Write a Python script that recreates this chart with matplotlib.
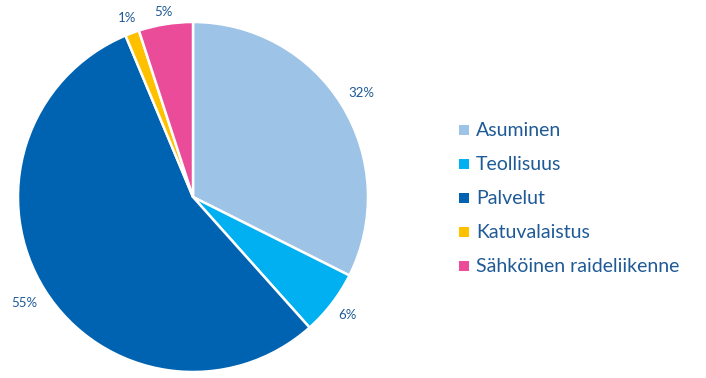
import numpy as np
import matplotlib.pyplot as plt
from matplotlib.patches import Rectangle

plt.rcParams['font.family'] = ['Lato', 'DejaVu Sans']

categories = ['Asuminen', 'Teollisuus', 'Palvelut', 'Katuvalaistus', 'Sähköinen raideliikenne']
values = [32.4, 6.0, 55.3, 1.3, 5.0]
colors = ['#9DC3E6', '#00B0F0', '#0063B1', '#FFC000', '#EA4C9A']
text_color = '#1F5A96'
label_dist = [1.13, 1.11, 1.14, 1.09, 1.07]   # radius of each % label

W, H = 706, 378
fig = plt.figure(figsize=(W / 100, H / 100), dpi=100)

# pie centre ~ (193,197) px, radius ~175 px
cx, cy, r = 193, 197, 175
ax = fig.add_axes([(cx - r) / W, (H - cy - r) / H, 2 * r / W, 2 * r / H])
wedges, texts, autotexts = ax.pie(values, colors=colors, startangle=90, counterclock=False,
                                  autopct='%1.0f%%', pctdistance=1.1, radius=1,
                                  wedgeprops=dict(edgecolor='white', linewidth=1.8))
for w, t, d in zip(wedges, autotexts, label_dist):
    ang = np.deg2rad((w.theta1 + w.theta2) / 2)
    t.set_position((d * np.cos(ang), d * np.sin(ang)))
    t.set_color(text_color)
    t.set_fontsize(9.5)
ax.set_xlim(-1, 1)
ax.set_ylim(-1, 1)
ax.set_aspect('equal')
ax.axis('off')

# legend drawn by hand in figure pixel coords
rows = [130, 164, 198, 232, 266]
for name, col, y in zip(categories, colors, rows):
    fig.patches.append(Rectangle((459 / W, (H - y - 5) / H), 10 / W, 10 / H,
                                 facecolor=col, edgecolor='none', transform=fig.transFigure))
    fig.text(476 / W, (H - y) / H, name, color=text_color, fontsize=14, va='center', ha='left')

fig.savefig('out.png', dpi=100)
